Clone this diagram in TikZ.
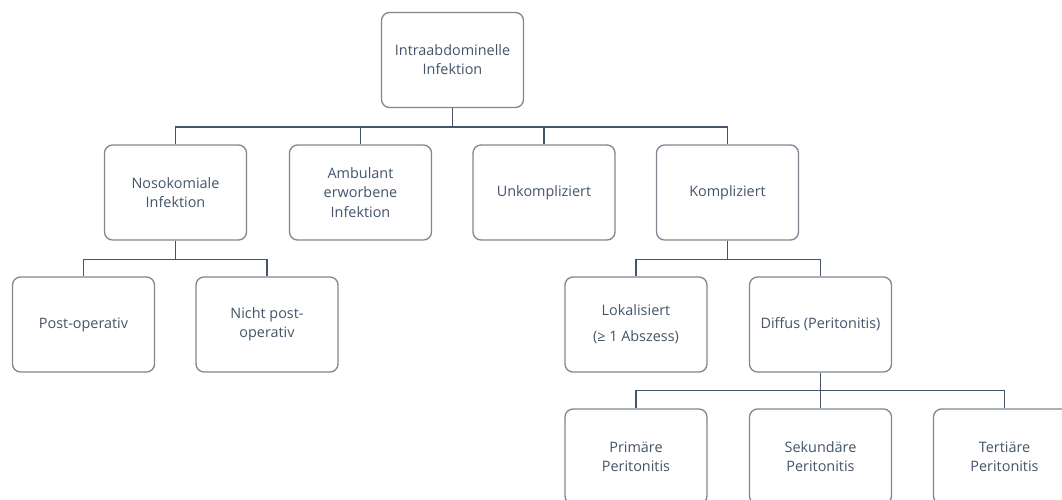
\documentclass[tikz,border=0pt]{standalone}
\usepackage{fontspec}
\setmainfont{Open Sans}
\usetikzlibrary{calc}
\definecolor{c1}{HTML}{44546A}
\definecolor{c2}{HTML}{7F8791}

\begin{document}
\begin{tikzpicture}[
    x=0.75pt, y=-0.75pt,
    every node/.style={font=\fontsize{10.8}{14.4}\selectfont, text=c1},
    box/.style={draw=c2, line width=1pt, rounded corners=6pt, fill=white,
        minimum width=106.5pt, minimum height=71.25pt, align=center, inner sep=2pt},
    conn/.style={c1, line width=1.2pt},
]
\useasboundingbox (0,0) rectangle (1062,499);
\clip (0,0) rectangle (1062,499);

% ============================================================ the root
\node[box] (root) at (452.5, 60) {Intraabdominelle\\Infektion};

% ============================================================ second row
\node[box] (noso) at (175.5, 192.5) {Nosokomiale\\Infektion};
\node[box] (ambu) at (360.5, 192.5) {Ambulant\\erworbene\\Infektion};
\node[box] (unko) at (544, 192.5) {Unkompliziert};
\node[box] (komp) at (727.5, 192.5) {Kompliziert};

% ============================================================ third row
\node[box] (post) at (83.5, 324.5) {Post-operativ};
\node[box] (nicht) at (267, 324.5) {Nicht post-\\operativ};
\node[box] (loka) at (636, 324.5) {Lokalisiert\\[5pt](≥ 1 Abszess)};
\node[box] (diff) at (820.5, 324.5) {Diffus (Peritonitis)};

% ============================================================ the peritonitis kinds
\node[box] (prim) at (636, 456.5) {Primäre\\Peritonitis};
\node[box] (seku) at (820.5, 456.5) {Sekundäre\\Peritonitis};
\node[box] (tert) at (1004.5, 456.5) {Tertiäre\\Peritonitis};

% ============================================================ connectors
\draw[conn] (root.south) -- ++(0,19) coordinate (b1);
\foreach \n in {noso, ambu, unko, komp}{
    \draw[conn] (b1) -| (\n.north);
}

\draw[conn] (noso.south) -- ++(0,19) coordinate (b2);
\foreach \n in {post, nicht}{
    \draw[conn] (b2) -| (\n.north);
}

\draw[conn] (komp.south) -- ++(0,19) coordinate (b3);
\foreach \n in {loka, diff}{
    \draw[conn] (b3) -| (\n.north);
}

\draw[conn] (diff.south) -- ++(0,18) coordinate (b4);
\foreach \n in {prim, seku, tert}{
    \draw[conn] (b4) -| (\n.north);
}

\end{tikzpicture}
\end{document}
